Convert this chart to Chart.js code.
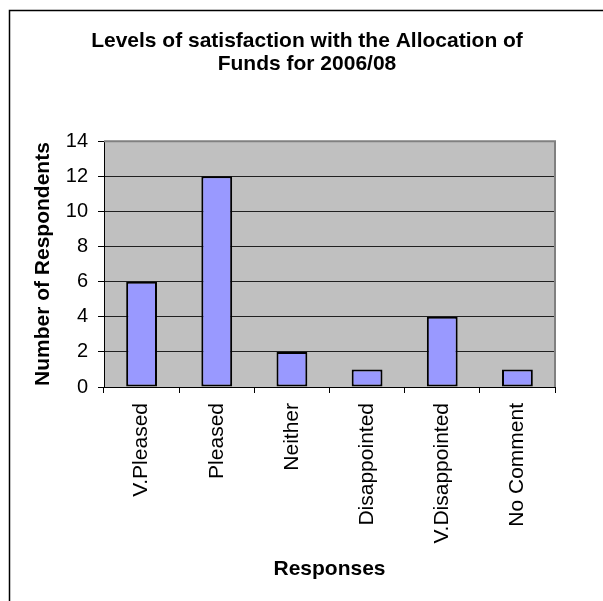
<!DOCTYPE html>
<html>
<head>
<meta charset="utf-8">
<script src="https://cdn.jsdelivr.net/npm/chart.js@4"></script>
<style>
html, body { margin: 0; padding: 0; background: #fff; }
#wrap { width: 603px; height: 601px; }
</style>
</head>
<body>
<div id="wrap"><canvas id="myChart" width="603" height="601"></canvas></div>
<script>
var categories = ["V.Pleased", "Pleased", "Neither", "Disappointed", "V.Disappointed", "No Comment"];
var respondents = [6, 12, 2, 1, 4, 1];
var yTicks = [0, 2, 4, 6, 8, 10, 12, 14];

var FONT = "'Liberation Sans', Arial, sans-serif";

// page frame, grey plot area and its border, like the old Excel chart
var framePlugin = {
    id: "frame",
    afterLayout: function(chart){
        // title is centred a bit right of the canvas centre
        chart.titleBlock.left = 11;
        chart.titleBlock.right = 603;
    },
    beforeDraw: function(chart){
        var ctx = chart.ctx, a = chart.chartArea;
        ctx.save();
        ctx.fillStyle = "#fff";
        ctx.fillRect(0, 0, chart.width, chart.height);
        ctx.strokeStyle = "#000";
        ctx.lineWidth = 1.5;
        ctx.beginPath();
        ctx.moveTo(9.5, chart.height);
        ctx.lineTo(9.5, 10.5);
        ctx.lineTo(chart.width, 10.5);
        ctx.stroke();
        ctx.fillStyle = "#C0C0C0";
        ctx.fillRect(a.left, a.top, a.right - a.left, a.bottom - a.top);
        ctx.restore();
    },
    beforeDatasetsDraw: function(chart){
        var ctx = chart.ctx, a = chart.chartArea;
        ctx.save();
        ctx.strokeStyle = "#808080";
        ctx.lineWidth = 2;
        ctx.beginPath();
        ctx.moveTo(a.left, a.top);
        ctx.lineTo(a.right, a.top);
        ctx.lineTo(a.right, a.bottom);
        ctx.stroke();
        ctx.restore();
    }
};

function initChart(){
    new Chart(document.getElementById("myChart"), {
        type: 'bar',
        data: {
            labels: categories,
            datasets: [{
                data: respondents,
                backgroundColor: '#9999FF',
                borderColor: '#000000',
                borderWidth: 2,
                borderSkipped: false,
                categoryPercentage: 1,
                barPercentage: 0.41
            }]
        },
        options: {
            responsive: false,
            animation: false,
            layout: { padding: { left: 0, right: 48, top: 0, bottom: 0 } },
            plugins: {
                legend: { display: false },
                tooltip: { enabled: false },
                title: {
                    display: true,
                    text: ["Levels of satisfaction with the Allocation of", "Funds for 2006/08"],
                    color: '#000',
                    font: { family: FONT, size: 21, weight: 'bold', lineHeight: 1.1 },
                    padding: { top: 30, bottom: 65 }
                }
            },
            scales: {
                x: {
                    afterFit: function(scale){ scale.height = 214; },
                    grid: { display: true, drawOnChartArea: false, color: '#000', tickLength: 6 },
                    border: { color: '#000', width: 1 },
                    ticks: {
                        color: '#000',
                        autoSkip: false,
                        minRotation: 90,
                        maxRotation: 90,
                        padding: 10,
                        font: { family: FONT, size: 21 }
                    },
                    title: {
                        display: true,
                        text: 'Responses',
                        color: '#000',
                        font: { family: FONT, size: 21, weight: 'bold' },
                        padding: { top: 0, bottom: 19 }
                    }
                },
                y: {
                    min: 0,
                    max: 14,
                    afterFit: function(scale){ scale.width = 104; },
                    afterBuildTicks: function(scale){
                        scale.ticks = yTicks.map(function(v){ return { value: v }; });
                    },
                    grid: {
                        color: function(c){ return c.tick && c.tick.value === 14 ? 'rgba(0,0,0,0)' : '#202020'; },
                        tickColor: '#000',
                        tickLength: 6
                    },
                    border: { color: '#000', width: 1 },
                    ticks: {
                        color: '#000',
                        padding: 10,
                        font: { family: FONT, size: 20 }
                    },
                    title: {
                        display: true,
                        text: 'Number of Respondents',
                        color: '#000',
                        font: { family: FONT, size: 21, weight: 'bold' },
                        padding: { top: 31, bottom: 0 }
                    }
                }
            }
        },
        plugins: [framePlugin]
    });
}

initChart();
</script>
</body>
</html>
